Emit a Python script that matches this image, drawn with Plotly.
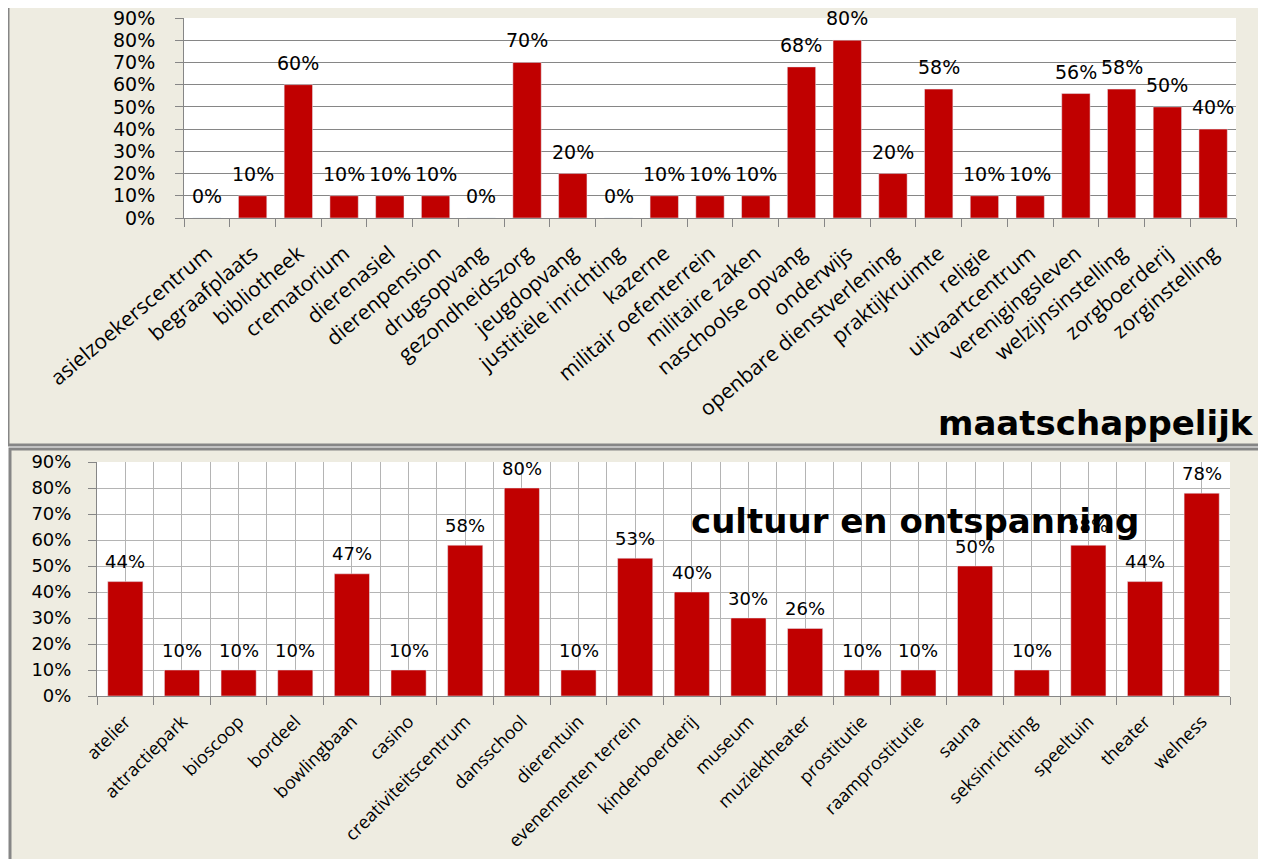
import plotly.graph_objects as go

# maatschappelijk (top chart)
cats_top = ["asielzoekerscentrum", "begraafplaats", "bibliotheek", "crematorium",
            "dierenasiel", "dierenpension", "drugsopvang", "gezondheidszorg",
            "jeugdopvang", "justitiële inrichting", "kazerne", "militair oefenterrein",
            "militaire zaken", "naschoolse opvang", "onderwijs",
            "openbare dienstverlening", "praktijkruimte", "religie",
            "uitvaartcentrum", "verenigingsleven", "welzijnsinstelling",
            "zorgboerderij", "zorginstelling"]
vals_top = [0, 10, 60, 10, 10, 10, 0, 70, 20, 0, 10, 10, 10, 68, 80, 20, 58, 10,
            10, 56, 58, 50, 40]

# cultuur en ontspanning (bottom chart)
cats_bot = ["atelier", "attractiepark", "bioscoop", "bordeel", "bowlingbaan",
            "casino", "creativiteitscentrum", "dansschool", "dierentuin",
            "evenementen terrein", "kinderboerderij", "museum", "muziektheater",
            "prostitutie", "raamprostitutie", "sauna", "seksinrichting",
            "speeltuin", "theater", "welness"]
vals_bot = [44, 10, 10, 10, 47, 10, 58, 80, 10, 53, 40, 30, 26, 10, 10, 50, 10,
            58, 44, 78]

# page is 1266x867, the html body keeps an 8px margin
OFF = 8
W, H = 1266 - 2 * OFF, 867 - 2 * OFF
RED = "#C00000"
BEIGE = "#EEECE1"
GRAY = "#868686"
LIGHT = "#B4B4B4"
NUM_FONT = "DejaVu Sans"
TXT_FONT = "Open Sans"


def px_x(p):
    return (p - OFF) / W


def px_y(p):
    return 1 - (p - OFF) / H


fig = go.Figure()

fig.add_trace(go.Bar(x=list(range(len(cats_top))), y=[v / 100 for v in vals_top],
                     marker_color=RED, xaxis="x", yaxis="y", hoverinfo="skip"))
fig.add_trace(go.Bar(x=list(range(len(cats_bot))), y=[v / 100 for v in vals_bot],
                     marker_color=RED, xaxis="x2", yaxis="y2", hoverinfo="skip"))

annotations = []
for i, v in enumerate(vals_top):
    annotations.append(dict(x=i, y=v / 100, xref="x", yref="y", text=f"{v}%",
                            showarrow=False, yanchor="middle", yshift=22,
                            font=dict(family=NUM_FONT, size=19, color="black")))
for i, v in enumerate(vals_bot):
    annotations.append(dict(x=i, y=v / 100, xref="x2", yref="y2", text=f"{v}%",
                            showarrow=False, yanchor="middle", yshift=20,
                            font=dict(family=NUM_FONT, size=18, color="black")))

annotations.append(dict(x=px_x(1256), y=px_y(423), xref="paper", yref="paper",
                        text="<b>maatschappelijk</b>", showarrow=False,
                        xanchor="right", yanchor="middle",
                        font=dict(family=NUM_FONT, size=34, color="black")))
annotations.append(dict(x=px_x(915), y=px_y(521), xref="paper", yref="paper",
                        text="<b>cultuur en ontspanning</b>", showarrow=False,
                        xanchor="center", yanchor="middle",
                        font=dict(family=NUM_FONT, size=34, color="black")))

shapes = [
    # panel frames
    dict(type="rect", xref="paper", yref="paper", x0=px_x(8), x1=px_x(1262),
         y0=px_y(445), y1=px_y(5), fillcolor=BEIGE, line=dict(color=GRAY, width=3),
         layer="below"),
    dict(type="rect", xref="paper", yref="paper", x0=px_x(10), x1=px_x(1262),
         y0=px_y(875), y1=px_y(449), fillcolor=BEIGE, line=dict(color=GRAY, width=3),
         layer="below"),
    # white plot areas
    dict(type="rect", xref="x domain", yref="y domain", x0=0, x1=1, y0=0, y1=1,
         fillcolor="white", line=dict(width=0), layer="below"),
    dict(type="rect", xref="x2 domain", yref="y2 domain", x0=0, x1=1, y0=0, y1=1,
         fillcolor="white", line=dict(width=0), layer="below"),
]

fig.update_layout(
    width=W, height=H,
    margin=dict(l=0, r=0, t=0, b=0, autoexpand=False),
    paper_bgcolor="white", plot_bgcolor="white",
    showlegend=False, bargap=0.38,
    annotations=annotations, shapes=shapes,
    xaxis=dict(domain=[px_x(184), px_x(1236)], anchor="y", automargin=False,
               range=[-0.5, len(cats_top) - 0.5],
               tickmode="array", tickvals=list(range(len(cats_top))), ticktext=cats_top,
               tickangle=-40, ticks="", showgrid=False, zeroline=False,
               showline=True, linecolor=GRAY, linewidth=1,
               ticklabelstandoff=14, ticklabeloverflow="allow",
               tickfont=dict(family=TXT_FONT, size=21, color="black"),
               minor=dict(tick0=0.5, dtick=1, ticks="outside", ticklen=8,
                          tickcolor=GRAY, showgrid=False)),
    yaxis=dict(domain=[px_y(218), px_y(18)], anchor="x", automargin=False,
               range=[0, 0.9],
               dtick=0.1, tickformat=".0%", showgrid=True, gridcolor=GRAY,
               zeroline=False, showline=True, linecolor=GRAY,
               ticks="outside", ticklen=8, tickcolor=GRAY, ticklabelstandoff=16,
               ticklabeloverflow="allow",
               tickfont=dict(family=NUM_FONT, size=19, color="black")),
    xaxis2=dict(domain=[px_x(97), px_x(1230)], anchor="y2", automargin=False,
                range=[-0.5, len(cats_bot) - 0.5],
                tickmode="array", tickvals=list(range(len(cats_bot))), ticktext=cats_bot,
                tickangle=-45, ticks="", showgrid=True, gridcolor=LIGHT,
                zeroline=False, showline=True, linecolor=GRAY, linewidth=1,
                ticklabelstandoff=7, ticklabeloverflow="allow",
                tickfont=dict(family=TXT_FONT, size=18, color="black"),
                minor=dict(tick0=0.5, dtick=1, ticks="outside", ticklen=8,
                           tickcolor=GRAY, showgrid=True, gridcolor=LIGHT)),
    yaxis2=dict(domain=[px_y(696), px_y(462)], anchor="x2", automargin=False,
                range=[0, 0.9],
                dtick=0.1, tickformat=".0%", showgrid=True, gridcolor=LIGHT,
                zeroline=False, showline=True, linecolor=GRAY,
                ticks="outside", ticklen=8, tickcolor=GRAY, ticklabelstandoff=13,
                ticklabeloverflow="allow",
                tickfont=dict(family=NUM_FONT, size=18, color="black")),
)

fig.write_html("out.html")
